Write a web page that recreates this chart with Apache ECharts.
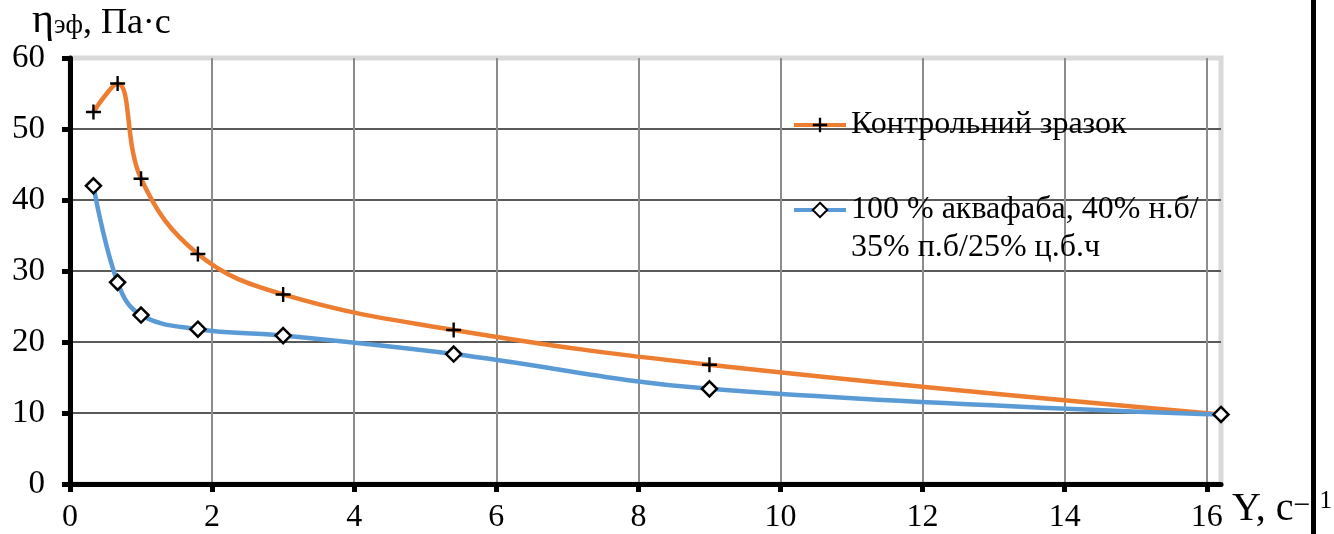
<!DOCTYPE html>
<html>
<head>
<meta charset="utf-8">
<title>Ефективна в'язкість</title>
<script src="https://cdn.jsdelivr.net/npm/echarts@6/dist/echarts.min.js"></script>
<style>
  html, body { margin: 0; padding: 0; background: #fff; }
  #chart { width: 1334px; height: 534px; }
</style>
</head>
<body>
<div id="chart"></div>
<script>
// shear rate, c^-1
const shearRate = [0.33, 0.67, 1.0, 1.8, 3.0, 5.4, 9.0, 16.2]
// effective viscosity, Pa·s
const controlSample = [52.4, 56.4, 43.0, 32.4, 26.7, 21.7, 16.8, 9.8]
const aquafabaSample = [42.0, 28.4, 23.8, 21.8, 20.9, 18.3, 13.4, 9.8]
const xTicks = [0, 2, 4, 6, 8, 10, 12, 14, 16]

const nameControl = 'Контрольний зразок'
const nameAquafaba = '100 % аквафаба, 40% н.б/\n35% п.б/25% ц.б.ч'

const font = 'Liberation Serif, Times New Roman, serif'
const plusPath = 'path://M-0.8,-5H0.8V-0.8H5V0.8H0.8V5H-0.8V0.8H-5V-0.8H-0.8Z'

function pairs(xs, ys) {
  return xs.map((x, i) => [x, ys[i]])
}

const chart = echarts.init(document.getElementById('chart'), null, { renderer: 'canvas' })

chart.setOption({
  animation: false,
  backgroundColor: '#fff',
  grid: {
    left: 70,
    right: 113,
    top: 58,
    bottom: 50,
    outerBoundsMode: 'none',
    containLabel: false,
    show: true,
    borderColor: '#d9d9d9',
    borderWidth: 5
  },
  legend: {
    orient: 'vertical',
    left: 792,
    top: 106,
    padding: 0,
    itemWidth: 52,
    itemHeight: 18,
    itemGap: 9,
    lineStyle: { width: 4 },
    textStyle: { fontFamily: font, fontSize: 32, color: '#000', lineHeight: 38 },
    // the leading empty line keeps the icon level with the first text line
    formatter: name => (name.indexOf('\n') >= 0 ? '\n' + name : name),
    data: [nameControl, nameAquafaba]
  },
  xAxis: {
    type: 'value',
    min: 0,
    max: 16.2,
    interval: 2,
    name: '{a|Υ, с}{s|−}{t|1}',
    nameLocation: 'end',
    nameGap: 11,
    nameTextStyle: {
      verticalAlign: 'top',
      align: 'left',
      padding: [5, 0, 0, 0],
      rich: {
        a: { fontFamily: font, fontSize: 40, color: '#000', lineHeight: 40, verticalAlign: 'bottom' },
        s: { fontFamily: font, fontSize: 30, color: '#000', verticalAlign: 'top', padding: [2, 0, 0, 0] },
        t: { fontFamily: font, fontSize: 25, color: '#000', verticalAlign: 'top', padding: [0, 0, 0, 9] }
      }
    },
    axisLine: { lineStyle: { color: '#000', width: 5 } },
    axisTick: { show: true, length: 8, lineStyle: { color: '#000', width: 5 }, customValues: xTicks },
    axisLabel: { fontFamily: font, fontSize: 32, color: '#000', margin: 18, customValues: xTicks },
    splitLine: { show: true, lineStyle: { color: '#8c8c8c', width: 2 } }
  },
  yAxis: {
    type: 'value',
    min: 0,
    max: 60,
    interval: 10,
    name: '{a|η}{b|эф}{c|, Па·с}',
    nameLocation: 'end',
    nameGap: 25,
    nameTextStyle: {
      align: 'left',
      verticalAlign: 'middle',
      padding: [0, 0, 0, -38],
      rich: {
        a: { fontFamily: font, fontSize: 42, color: '#000', lineHeight: 42, verticalAlign: 'bottom' },
        b: { fontFamily: font, fontSize: 27, color: '#000', verticalAlign: 'bottom', padding: [0, 0, 2, 0] },
        c: { fontFamily: font, fontSize: 36, color: '#000', verticalAlign: 'bottom' }
      }
    },
    axisLine: { show: true, lineStyle: { color: '#000', width: 5 } },
    axisTick: { show: true, length: 8, lineStyle: { color: '#000', width: 5 } },
    axisLabel: { fontFamily: font, fontSize: 33, color: '#000', margin: 25 },
    splitLine: { show: true, showMaxLine: false, lineStyle: { color: '#5a5a5a', width: 2 } }
  },
  graphic: [
    {
      type: 'rect',
      left: 1311,
      top: 0,
      z: 100,
      shape: { width: 5, height: 534 },
      style: { fill: '#000' }
    }
  ],
  series: [
    {
      name: nameControl,
      type: 'line',
      smooth: 0.4,
      data: pairs(shearRate, controlSample),
      symbol: plusPath,
      symbolSize: 15,
      showAllSymbol: true,
      itemStyle: { color: '#000' },
      lineStyle: { color: '#ed7d31', width: 4.5 },
      clip: false,
      z: 3
    },
    {
      name: nameAquafaba,
      type: 'line',
      smooth: 0.4,
      data: pairs(shearRate, aquafabaSample),
      symbol: 'diamond',
      symbolSize: 15,
      showAllSymbol: true,
      itemStyle: { color: '#fff', borderColor: '#000', borderWidth: 2.5 },
      lineStyle: { color: '#5b9bd5', width: 4.5 },
      clip: false,
      z: 4
    }
  ]
})
</script>
</body>
</html>
